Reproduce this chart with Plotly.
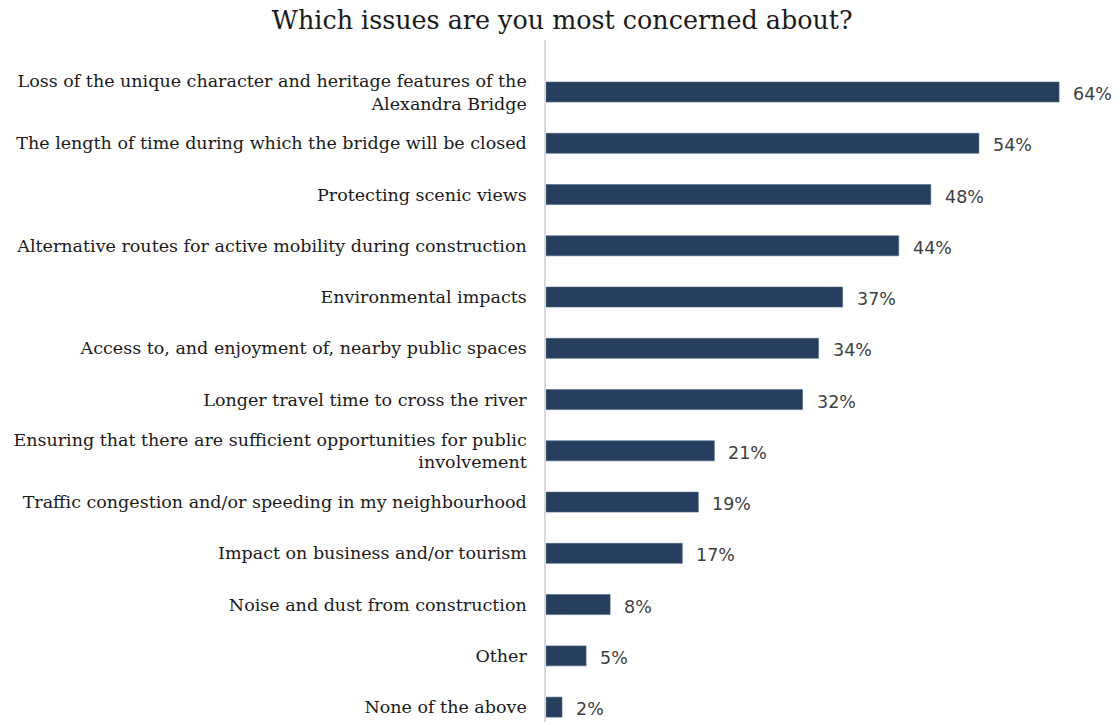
import plotly.graph_objects as go

categories = [
    "Loss of the unique character and heritage features of the<br>Alexandra Bridge",
    "The length of time during which the bridge will be closed",
    "Protecting scenic views",
    "Alternative routes for active mobility during construction",
    "Environmental impacts",
    "Access to, and enjoyment of, nearby public spaces",
    "Longer travel time to cross the river",
    "Ensuring that there are sufficient opportunities for public<br>involvement",
    "Traffic congestion and/or speeding in my neighbourhood",
    "Impact on business and/or tourism",
    "Noise and dust from construction",
    "Other",
    "None of the above",
]
values = [64, 54, 48, 44, 37, 34, 32, 21, 19, 17, 8, 5, 2]
labels = [f"{v}%" for v in values]

idx = list(range(len(categories)))

fig = go.Figure()
fig.add_trace(go.Bar(
    x=values, y=idx, orientation="h",
    marker=dict(color="#263F5F", line=dict(color="#4A6488", width=0.6)),
    hoverinfo="skip",
))

for i, (v, t) in enumerate(zip(values, labels)):
    fig.add_annotation(x=v, y=i, text=t, showarrow=False, xanchor="left",
                       xshift=12, yshift=-2,
                       font=dict(family="DejaVu Sans", size=17.5, color="#404040"))

fig.update_layout(
    width=1120, height=725,
    margin=dict(l=546, r=0, t=40, b=3),
    paper_bgcolor="white", plot_bgcolor="white",
    bargap=0.61,
    showlegend=False,
    title=dict(text="Which issues are you most concerned about?",
               x=0.502, xanchor="center", y=0.972, yanchor="middle",
               font=dict(family="DejaVu Serif", size=25.4, color="#1a1a1a")),
)
fig.update_xaxes(range=[0, 71.6], showgrid=False, showticklabels=False,
                 zeroline=False, showline=False, fixedrange=True)
fig.update_yaxes(range=[12.29, -1.015], tickmode="array", tickvals=idx,
                 ticktext=categories, showgrid=False, zeroline=False,
                 showline=True, linecolor="#D9D9D9", linewidth=1.5,
                 ticks="", ticklabelstandoff=14,
                 tickfont=dict(family="DejaVu Serif", size=17.5, color="#1a1a1a"))

fig.write_html("out.html")
